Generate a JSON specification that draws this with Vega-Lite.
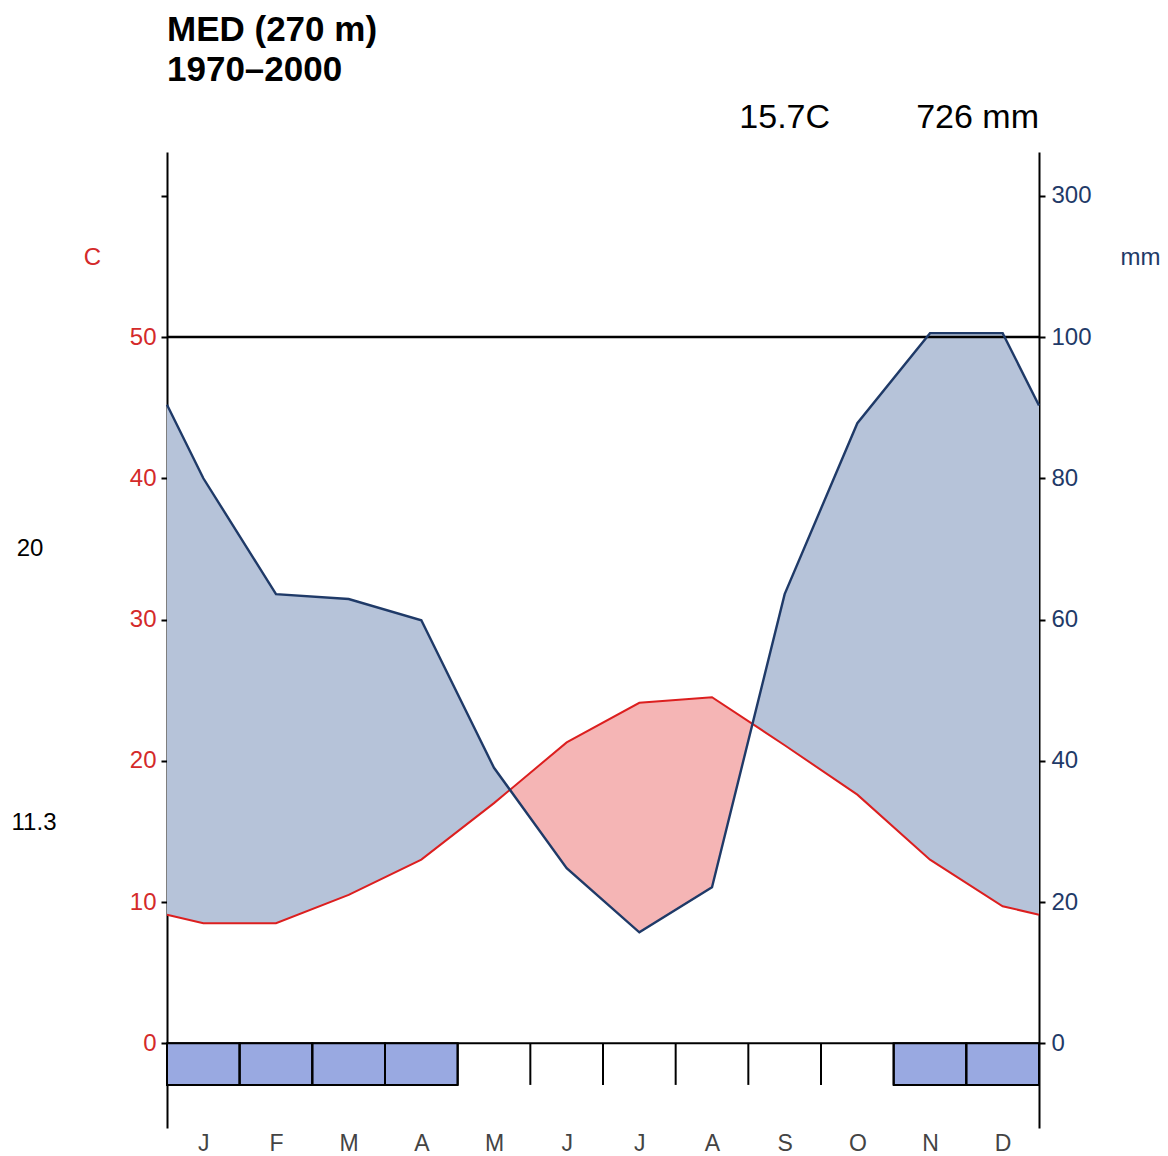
{
  "$schema": "https://vega.github.io/schema/vega-lite/v6.json",
  "width": 872,
  "height": 976,
  "autosize": {"type": "none"},
  "padding": {"left": 167, "top": 152, "right": 129, "bottom": 28},
  "background": "white",
  "config": {"view": {"stroke": null}, "font": "Liberation Sans", "text": {"font": "Liberation Sans"}},
  "title": {
    "text": ["MED (270 m)", "1970–2000"],
    "anchor": "start",
    "frame": "group",
    "fontSize": 35,
    "fontWeight": "bold",
    "font": "Liberation Sans",
    "color": "black",
    "lineHeight": 40,
    "offset": 13
  },
  "datasets": {
    "clim": [
      {"m": 0.5, "t": 9.1, "p": 90.4},
      {"m": 1, "t": 8.5, "p": 80.0},
      {"m": 2, "t": 8.5, "p": 63.6},
      {"m": 3, "t": 10.5, "p": 62.9},
      {"m": 4, "t": 13.0, "p": 59.9},
      {"m": 5, "t": 17.0, "p": 39.0},
      {"m": 6, "t": 21.3, "p": 24.8},
      {"m": 7, "t": 24.1, "p": 15.7},
      {"m": 8, "t": 24.5, "p": 22.1},
      {"m": 9, "t": 21.1, "p": 63.6},
      {"m": 10, "t": 17.6, "p": 87.8},
      {"m": 11, "t": 13.0, "p": 105.5},
      {"m": 12, "t": 9.7, "p": 105.5},
      {"m": 12.5, "t": 9.1, "p": 90.3}
    ],
    "frost": [
      {"m": 1, "frost": 1},
      {"m": 2, "frost": 1},
      {"m": 3, "frost": 1},
      {"m": 4, "frost": 1},
      {"m": 5, "frost": 0},
      {"m": 6, "frost": 0},
      {"m": 7, "frost": 0},
      {"m": 8, "frost": 0},
      {"m": 9, "frost": 0},
      {"m": 10, "frost": 0},
      {"m": 11, "frost": 1},
      {"m": 12, "frost": 1}
    ]
  },
  "resolve": {"axis": {"x": "independent", "y": "independent"}},
  "layer": [
    {
      "data": {"name": "clim"},
      "transform": [{"calculate": "datum.p <= 100 ? datum.p / 2 : 50 + (datum.p - 100) / 20", "as": "ps"}],
      "mark": {
        "type": "area",
        "fill": {
          "gradient": "linear",
          "x1": 0, "y1": 0, "x2": 1, "y2": 0,
          "stops": [
            {"offset": 0, "color": "#b6c3d9"},
            {"offset": 0.3932, "color": "#b6c3d9"},
            {"offset": 0.3932, "color": "#f5b5b5"},
            {"offset": 0.6714, "color": "#f5b5b5"},
            {"offset": 0.6714, "color": "#b6c3d9"},
            {"offset": 1, "color": "#b6c3d9"}
          ]
        }
      },
      "encoding": {
        "x": {"field": "m", "type": "quantitative", "scale": {"domain": [0.5, 12.5], "nice": false, "zero": false}, "axis": null},
        "y": {"field": "ps", "type": "quantitative", "scale": {"domain": [-6, 63.1], "nice": false, "zero": false}, "axis": null},
        "y2": {"field": "t"}
      }
    },
    {
      "data": {"values": [{}]},
      "mark": {"type": "rule", "color": "black", "strokeWidth": 2.5},
      "encoding": {
        "y": {"datum": 50, "type": "quantitative", "scale": {"domain": [-6, 63.1], "nice": false, "zero": false}, "axis": null}
      }
    },
    {
      "data": {"name": "clim"},
      "mark": {"type": "line", "color": "#dc1f1f", "strokeWidth": 2},
      "encoding": {
        "x": {
          "field": "m", "type": "quantitative",
          "scale": {"domain": [0.5, 12.5], "nice": false, "zero": false},
          "axis": {
            "orient": "bottom",
            "values": [1, 2, 3, 4, 5, 6, 7, 8, 9, 10, 11, 12],
            "labelExpr": "['J','F','M','A','M','J','J','A','S','O','N','D'][datum.value - 1]",
            "domain": false, "ticks": false, "tickSize": 0, "grid": false,
            "labelPadding": 4, "labelFontSize": 23, "labelColor": "#444444",
            "labelFont": "Liberation Sans", "title": null
          }
        },
        "y": {
          "field": "t", "type": "quantitative",
          "scale": {"domain": [-6, 63.1], "nice": false, "zero": false},
          "axis": {
            "orient": "left",
            "values": [0, 10, 20, 30, 40, 50, 60],
            "labelExpr": "datum.value == 60 ? '' : datum.label",
            "labelColor": "#d42a2a", "labelFontSize": 24, "labelFont": "Liberation Sans",
            "labelPadding": 5,
            "tickColor": "black", "tickWidth": 2, "tickSize": 6,
            "domainColor": "black", "domainWidth": 2, "grid": false,
            "title": "C", "titleAngle": 0, "titleX": -75, "titleY": 105,
            "titleColor": "#d42a2a", "titleFontSize": 24, "titleFontWeight": "normal",
            "titleAlign": "center", "titleBaseline": "middle", "titleFont": "Liberation Sans"
          }
        }
      }
    },
    {
      "data": {"name": "clim"},
      "transform": [{"calculate": "datum.p <= 100 ? datum.p / 2 : 50 + (datum.p - 100) / 20", "as": "ps"}],
      "mark": {"type": "line", "color": "#1f3a68", "strokeWidth": 2.4},
      "encoding": {
        "x": {"field": "m", "type": "quantitative", "scale": {"domain": [0.5, 12.5], "nice": false, "zero": false}, "axis": null},
        "y": {
          "field": "ps", "type": "quantitative",
          "scale": {"domain": [-6, 63.1], "nice": false, "zero": false},
          "axis": {
            "orient": "right",
            "values": [0, 10, 20, 30, 40, 50, 60],
            "labelExpr": "datum.value <= 50 ? format(datum.value * 2, 'd') : format(100 + (datum.value - 50) * 20, 'd')",
            "labelColor": "#1f3a68", "labelFontSize": 24, "labelFont": "Liberation Sans",
            "labelPadding": 6,
            "tickColor": "black", "tickWidth": 2, "tickSize": 6,
            "domainColor": "black", "domainWidth": 2, "grid": false,
            "title": "mm", "titleAngle": 0, "titleX": 101, "titleY": 105,
            "titleColor": "#1f3a68", "titleFontSize": 24, "titleFontWeight": "normal",
            "titleAlign": "center", "titleBaseline": "middle", "titleFont": "Liberation Sans"
          }
        }
      }
    },
    {
      "data": {"values": [{}]},
      "mark": {"type": "rule", "color": "black", "strokeWidth": 1.8},
      "encoding": {
        "y": {"datum": 0, "type": "quantitative", "scale": {"domain": [-6, 63.1], "nice": false, "zero": false}, "axis": null}
      }
    },
    {
      "data": {"name": "frost"},
      "transform": [
        {"filter": "datum.frost == 1"},
        {"calculate": "datum.m - 0.5", "as": "x0"},
        {"calculate": "datum.m + 0.5", "as": "x1"}
      ],
      "mark": {"type": "rect", "fill": "#99a9e1", "stroke": "black", "strokeWidth": 2},
      "encoding": {
        "x": {"field": "x0", "type": "quantitative", "scale": {"domain": [0.5, 12.5], "nice": false, "zero": false}, "axis": null},
        "x2": {"field": "x1"},
        "y": {"datum": 0, "type": "quantitative", "scale": {"domain": [-6, 63.1], "nice": false, "zero": false}, "axis": null},
        "y2": {"datum": -2.95}
      }
    },
    {
      "data": {"name": "frost"},
      "transform": [{"calculate": "datum.m - 0.5", "as": "x0"}],
      "mark": {"type": "rule", "color": "black", "strokeWidth": 2},
      "encoding": {
        "x": {"field": "x0", "type": "quantitative", "scale": {"domain": [0.5, 12.5], "nice": false, "zero": false}, "axis": null},
        "y": {"datum": 0, "type": "quantitative", "scale": {"domain": [-6, 63.1], "nice": false, "zero": false}, "axis": null},
        "y2": {"datum": -2.95}
      }
    },
    {
      "data": {"values": [{"label": "15.7C"}]},
      "mark": {"type": "text", "fontSize": 34, "align": "center", "baseline": "middle", "color": "black"},
      "encoding": {
        "text": {"field": "label"},
        "x": {"datum": 9, "type": "quantitative", "scale": {"domain": [0.5, 12.5], "nice": false, "zero": false}, "axis": null},
        "y": {"datum": 65.5, "type": "quantitative", "scale": {"domain": [-6, 63.1], "nice": false, "zero": false}, "axis": null}
      }
    },
    {
      "data": {"values": [{"label": "726 mm"}]},
      "mark": {"type": "text", "fontSize": 34, "align": "right", "baseline": "middle", "color": "black"},
      "encoding": {
        "text": {"field": "label"},
        "x": {"datum": 12.5, "type": "quantitative", "scale": {"domain": [0.5, 12.5], "nice": false, "zero": false}, "axis": null},
        "y": {"datum": 65.5, "type": "quantitative", "scale": {"domain": [-6, 63.1], "nice": false, "zero": false}, "axis": null}
      }
    },
    {
      "data": {"values": [{"label": "20"}]},
      "mark": {"type": "text", "fontSize": 24, "align": "center", "baseline": "middle", "color": "black"},
      "encoding": {
        "text": {"field": "label"},
        "x": {"datum": -1.385, "type": "quantitative", "scale": {"domain": [0.5, 12.5], "nice": false, "zero": false}, "axis": null},
        "y": {"datum": 35, "type": "quantitative", "scale": {"domain": [-6, 63.1], "nice": false, "zero": false}, "axis": null}
      }
    },
    {
      "data": {"values": [{"label": "11.3"}]},
      "mark": {"type": "text", "fontSize": 24, "align": "center", "baseline": "middle", "color": "black"},
      "encoding": {
        "text": {"field": "label"},
        "x": {"datum": -1.33, "type": "quantitative", "scale": {"domain": [0.5, 12.5], "nice": false, "zero": false}, "axis": null},
        "y": {"datum": 15.58, "type": "quantitative", "scale": {"domain": [-6, 63.1], "nice": false, "zero": false}, "axis": null}
      }
    }
  ]
}
